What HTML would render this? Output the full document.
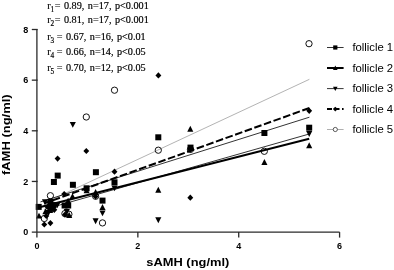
<!DOCTYPE html>
<html><head><meta charset="utf-8"><title>fAMH vs sAMH</title>
<style>
html,body{margin:0;padding:0;background:#fff;}
body{width:394px;height:270px;overflow:hidden;}
svg{display:block;filter:grayscale(1);}
.ser{font-family:"Liberation Serif","Times New Roman",serif;font-size:10.2px;word-spacing:1px;fill:#000;stroke:#000;stroke-width:0.18px;}
.sub{font-size:7.3px;}
.ax{font-family:"Liberation Sans",Arial,sans-serif;font-weight:bold;font-size:9px;fill:#000;}
.lab{font-family:"Liberation Sans",Arial,sans-serif;font-weight:bold;font-size:11.6px;fill:#000;}
.leg{font-family:"Liberation Sans",Arial,sans-serif;font-size:11.3px;fill:#000;}
</style></head><body>
<svg width="394" height="270" viewBox="0 0 394 270">
<rect width="394" height="270" fill="#fff"/>

<g fill="#000">
<line x1="44.3" y1="203.09" x2="309.4" y2="79.3" stroke="#a0a0a0" stroke-width="0.8"/>
<circle cx="309.00" cy="43.70" r="3.15" fill="none" stroke="#111" stroke-width="1.0"/>
<circle cx="114.50" cy="90.20" r="3.15" fill="none" stroke="#111" stroke-width="1.0"/>
<circle cx="86.30" cy="117.00" r="3.15" fill="none" stroke="#111" stroke-width="1.0"/>
<circle cx="158.30" cy="150.20" r="3.15" fill="none" stroke="#111" stroke-width="1.0"/>
<circle cx="264.30" cy="151.30" r="3.15" fill="none" stroke="#111" stroke-width="1.0"/>
<circle cx="50.40" cy="195.70" r="3.15" fill="none" stroke="#111" stroke-width="1.0"/>
<circle cx="102.50" cy="222.90" r="3.15" fill="none" stroke="#111" stroke-width="1.0"/>
<circle cx="44.30" cy="218.50" r="3.15" fill="none" stroke="#111" stroke-width="1.0"/>
<circle cx="64.90" cy="213.60" r="3.15" fill="none" stroke="#111" stroke-width="1.0"/>
<circle cx="68.90" cy="214.20" r="3.15" fill="none" stroke="#111" stroke-width="1.0"/>
<circle cx="95.60" cy="196.30" r="3.15" fill="none" stroke="#111" stroke-width="1.0"/>
<circle cx="190.50" cy="149.40" r="3.15" fill="none" stroke="#111" stroke-width="1.0"/>
<line x1="44.3" y1="203.37" x2="309.4" y2="108.0" stroke="#000" stroke-width="2.0" stroke-dasharray="7.6 2.6" stroke-dashoffset="11.4"/>
<polygon points="155.45,75.40 158.40,72.30 161.35,75.40 158.40,78.50"/>
<polygon points="83.35,151.00 86.30,147.90 89.25,151.00 86.30,154.10"/>
<polygon points="54.65,158.60 57.60,155.50 60.55,158.60 57.60,161.70"/>
<polygon points="187.35,197.70 190.30,194.60 193.25,197.70 190.30,200.80"/>
<polygon points="306.25,110.80 309.20,107.70 312.15,110.80 309.20,113.90"/>
<polygon points="41.35,224.50 44.30,221.40 47.25,224.50 44.30,227.60"/>
<polygon points="47.45,223.10 50.40,220.00 53.35,223.10 50.40,226.20"/>
<polygon points="111.55,171.70 114.50,168.60 117.45,171.70 114.50,174.80"/>
<polygon points="61.25,194.00 64.20,190.90 67.15,194.00 64.20,197.10"/>
<polygon points="187.55,149.60 190.50,146.50 193.45,149.60 190.50,152.70"/>
<polygon points="44.55,207.00 47.50,203.90 50.45,207.00 47.50,210.10"/>
<polygon points="51.35,209.80 54.30,206.70 57.25,209.80 54.30,212.90"/>
<polygon points="43.35,216.00 46.30,212.90 49.25,216.00 46.30,219.10"/>
<polygon points="62.05,214.60 65.00,211.50 67.95,214.60 65.00,217.70"/>
<polygon points="92.65,196.40 95.60,193.30 98.55,196.40 95.60,199.50"/>
<line x1="44.6" y1="209.34" x2="309.2" y2="134.0" stroke="#000" stroke-width="0.8"/>
<polygon points="69.75,121.95 75.85,121.95 72.80,127.85"/>
<polygon points="155.25,217.25 161.35,217.25 158.30,223.15"/>
<polygon points="306.15,131.05 312.25,131.05 309.20,136.95"/>
<polygon points="99.45,210.45 105.55,210.45 102.50,216.35"/>
<polygon points="92.55,218.25 98.65,218.25 95.60,224.15"/>
<polygon points="111.45,185.45 117.55,185.45 114.50,191.35"/>
<polygon points="41.95,199.35 48.05,199.35 45.00,205.25"/>
<polygon points="49.55,206.65 55.65,206.65 52.60,212.55"/>
<polygon points="45.45,210.05 51.55,210.05 48.50,215.95"/>
<polygon points="63.75,209.05 69.85,209.05 66.80,214.95"/>
<polygon points="54.25,202.45 60.35,202.45 57.30,208.35"/>
<line x1="40.5" y1="207.01" x2="309.2" y2="138.7" stroke="#000" stroke-width="2.0"/>
<polygon points="187.25,131.65 193.35,131.65 190.30,125.75"/>
<polygon points="155.25,192.75 161.35,192.75 158.30,186.85"/>
<polygon points="261.35,164.95 267.45,164.95 264.40,159.05"/>
<polygon points="306.15,148.15 312.25,148.15 309.20,142.25"/>
<polygon points="99.45,209.95 105.55,209.95 102.50,204.05"/>
<polygon points="92.55,194.95 98.65,194.95 95.60,189.05"/>
<polygon points="69.45,199.05 75.55,199.05 72.50,193.15"/>
<polygon points="65.05,203.55 71.15,203.55 68.10,197.65"/>
<polygon points="35.95,218.55 42.05,218.55 39.00,212.65"/>
<polygon points="42.35,214.35 48.45,214.35 45.40,208.45"/>
<polygon points="46.95,212.95 53.05,212.95 50.00,207.05"/>
<polygon points="50.95,207.45 57.05,207.45 54.00,201.55"/>
<polygon points="83.55,193.35 89.65,193.35 86.60,187.45"/>
<polygon points="66.15,217.95 72.25,217.95 69.20,212.05"/>
<line x1="40.5" y1="201.9" x2="309.4" y2="117.2" stroke="#000" stroke-width="0.8"/>
<rect x="54.70" y="172.60" width="6.0" height="6.0"/>
<rect x="50.90" y="179.00" width="6.0" height="6.0"/>
<rect x="69.90" y="181.80" width="6.0" height="6.0"/>
<rect x="92.90" y="169.20" width="6.0" height="6.0"/>
<rect x="155.30" y="134.30" width="6.0" height="6.0"/>
<rect x="261.40" y="130.00" width="6.0" height="6.0"/>
<rect x="306.20" y="124.70" width="6.0" height="6.0"/>
<rect x="187.50" y="144.60" width="6.0" height="6.0"/>
<rect x="111.50" y="179.30" width="6.0" height="6.0"/>
<rect x="83.60" y="185.30" width="6.0" height="6.0"/>
<rect x="99.50" y="197.60" width="6.0" height="6.0"/>
<rect x="35.70" y="203.90" width="6.0" height="6.0"/>
<rect x="61.60" y="202.50" width="6.0" height="6.0"/>
<rect x="65.20" y="202.50" width="6.0" height="6.0"/>
<rect x="47.40" y="198.80" width="6.0" height="6.0"/>
<rect x="50.20" y="202.20" width="6.0" height="6.0"/>
<rect x="48.00" y="205.00" width="6.0" height="6.0"/>
</g>
<g stroke="#2a2a2a" stroke-width="1.3" fill="none">
<path d="M36.9,29 V237.6"/>
<path d="M31.8,232.1 H339.6"/>
<path d="M31.8,181.45 H37.6"/>
<path d="M31.8,130.80 H37.6"/>
<path d="M31.8,80.15 H37.6"/>
<path d="M31.8,29.50 H37.6"/>
<path d="M137.86,232.1 V237.6"/>
<path d="M238.72,232.1 V237.6"/>
<path d="M339.58,232.1 V237.6"/>
</g>
<g class="ax">
<text x="28.3" y="235.40" text-anchor="end">0</text>
<text x="28.3" y="184.75" text-anchor="end">2</text>
<text x="28.3" y="134.10" text-anchor="end">4</text>
<text x="28.3" y="83.45" text-anchor="end">6</text>
<text x="28.3" y="32.80" text-anchor="end">8</text>
<text x="37.00" y="248.6" text-anchor="middle">0</text>
<text x="137.86" y="248.6" text-anchor="middle">2</text>
<text x="238.72" y="248.6" text-anchor="middle">4</text>
<text x="339.58" y="248.6" text-anchor="middle">6</text>
</g>
<text class="lab" x="146.3" y="265.9" textLength="83" lengthAdjust="spacingAndGlyphs">sAMH (ng/ml)</text>
<text class="lab" transform="translate(10.4,175.1) rotate(-90)" textLength="80.8" lengthAdjust="spacingAndGlyphs">fAMH (ng/ml)</text>
<text class="ser" x="47.2" y="8.6">r<tspan class="sub" dy="2.9">1</tspan><tspan dy="-2.9" dx="0.4">= 0.89, n=17, p&lt;0.001</tspan></text>
<text class="ser" x="47.2" y="23.0">r<tspan class="sub" dy="2.9">2</tspan><tspan dy="-2.9" dx="0.4">= 0.81, n=17, p&lt;0.001</tspan></text>
<text class="ser" x="47.2" y="39.6">r<tspan class="sub" dy="2.9">3</tspan><tspan dy="-2.9" dx="2.4">= 0.67, n=16, p&lt;0.01</tspan></text>
<text class="ser" x="47.2" y="54.9">r<tspan class="sub" dy="2.9">4</tspan><tspan dy="-2.9" dx="2.4">= 0.66, n=14, p&lt;0.05</tspan></text>
<text class="ser" x="47.2" y="71.0">r<tspan class="sub" dy="2.9">5</tspan><tspan dy="-2.9" dx="2.4">= 0.70, n=12, p&lt;0.05</tspan></text>
<line x1="327" y1="47.5" x2="343.6" y2="47.5" stroke="#000" stroke-width="0.8"/>
<g fill="#000"><rect x="333.20" y="45.40" width="4.2" height="4.2"/></g>
<text class="leg" x="352.5" y="51.3" textLength="40.6" lengthAdjust="spacing">follicle 1</text>
<line x1="327" y1="68.0" x2="343.6" y2="68.0" stroke="#000" stroke-width="2"/>
<g fill="#000"><polygon points="333.00,69.90 337.60,69.90 335.30,65.50"/></g>
<text class="leg" x="352.5" y="71.8" textLength="40.6" lengthAdjust="spacing">follicle 2</text>
<line x1="327" y1="88.6" x2="343.6" y2="88.6" stroke="#000" stroke-width="0.8"/>
<g fill="#000"><polygon points="333.00,86.70 337.60,86.70 335.30,91.10"/></g>
<text class="leg" x="352.5" y="92.4" textLength="40.6" lengthAdjust="spacing">follicle 3</text>
<line x1="327" y1="109.1" x2="343.6" y2="109.1" stroke="#000" stroke-width="2" stroke-dasharray="5 2.5"/>
<g fill="#000"><polygon points="332.90,109.10 335.30,106.70 337.70,109.10 335.30,111.50"/></g>
<text class="leg" x="352.5" y="112.9" textLength="40.6" lengthAdjust="spacing">follicle 4</text>
<line x1="327" y1="129.5" x2="343.6" y2="129.5" stroke="#9a9a9a" stroke-width="0.8"/>
<circle cx="335.3" cy="129.5" r="2.1" fill="#fff" stroke="#333" stroke-width="0.8"/>
<text class="leg" x="352.5" y="133.3" textLength="40.6" lengthAdjust="spacing">follicle 5</text>
</svg></body></html>
